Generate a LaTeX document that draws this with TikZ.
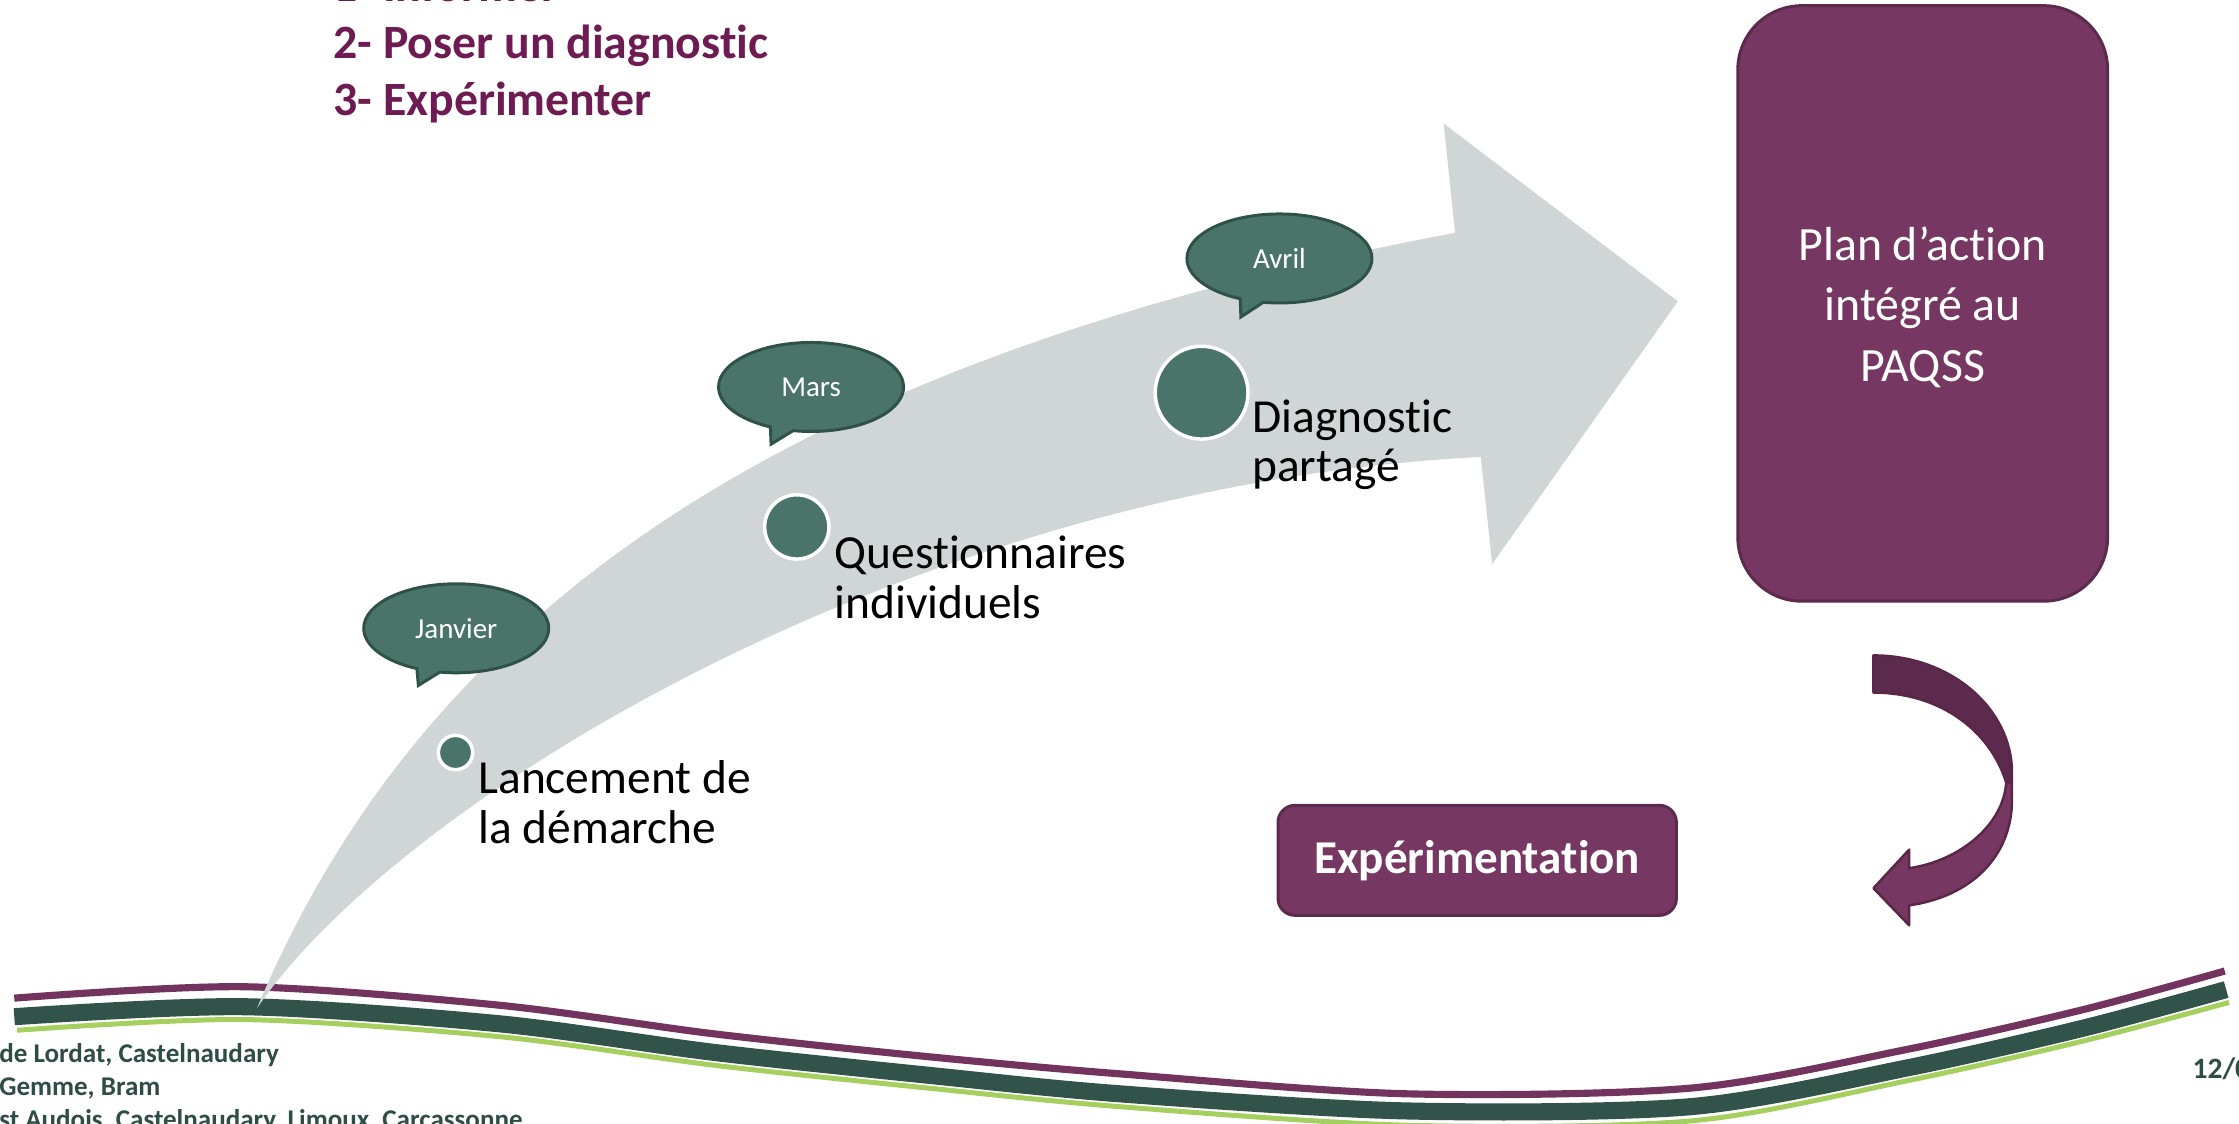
\documentclass[tikz,border=0pt]{standalone}
\usepackage{fontspec}
\setmainfont{Carlito}[Ligatures={NoCommon}]
\usetikzlibrary{shapes.callouts,shapes.geometric}
\definecolor{headpurple}{HTML}{6D1B52}
\definecolor{boxpurple}{HTML}{773763}
\definecolor{boxborder}{HTML}{5B2A4C}
\definecolor{arrowdark}{HTML}{5C2A4D}
\definecolor{arrowline}{HTML}{5A2748}
\definecolor{tealfill}{HTML}{4A7469}
\definecolor{bubbleborder}{HTML}{2F5248}
\definecolor{bandgray}{HTML}{CFD6D5}
\definecolor{footgreen}{HTML}{2E4D45}
\definecolor{stripepurple}{HTML}{72335F}
\definecolor{stripegreen}{HTML}{32534A}
\definecolor{stripelime}{HTML}{A5D05F}
\begin{document}
\begin{tikzpicture}[x=0.14279mm,y=-0.14279mm,
  dot/.style={circle, fill=tealfill, draw=white, line width=0.35mm, inner sep=0},
  lbl/.style={anchor=base west, align=left, inner sep=0, font=\fontsize{13.5}{14.1}\selectfont, text=black},
  bubble/.style={ellipse callout, fill=tealfill, draw=bubbleborder, line width=0.3mm, minimum width=18.5mm, minimum height=8.9mm, inner sep=0, text=white, font=\fontsize{8.25}{10}\selectfont},
  pbox/.style={fill=boxpurple, draw=boxborder, line width=0.3mm, text=white, inner sep=0},
  stripe/.style={line cap=butt}
]
\useasboundingbox (0,0) rectangle (1568,787.1);
\clip (0,0) rectangle (1568,787.1);

% bottom stripes
\draw[stripe, stripepurple, line width=0.714mm] plot[smooth] coordinates {(10,699) (170,691) (350,704) (500,724) (650,740) (784,752) (985,766) (1184,762) (1335,735) (1459,707) (1558,680)};
\draw[stripe, stripegreen, line width=1.71mm] plot[smooth] coordinates {(10,712) (170,705) (350,717) (500,737) (650,753) (784,766) (985,778) (1184,775) (1335,748) (1459,720) (1559,693)};
\draw[stripe, stripelime, line width=0.5mm] plot[smooth] coordinates {(12,721.5) (170,714) (350,726) (500,746) (650,762) (784,775) (985,788) (1184,785) (1335,757) (1459,729) (1561,702)};

% big curved arrow
\fill[bandgray] (180,706) .. controls (300,420) and (560,250) .. (1019,163) -- (1011,86.5) -- (1175,211) -- (1045,395) -- (1037,320) .. controls (640,340) and (280,560) .. (180,706) -- cycle;

% headings (anchor = baseline of last line)
\node[anchor=base west, align=left, inner sep=0, text=headpurple, font=\bfseries\fontsize{13.6}{16.2}\selectfont] (steps) at (233,81) {1- Informer\\2- Poser un diagnostic\\3- Expérimenter};

% milestones
\node[dot, minimum size=3.43mm] (c1) at (319,527) {};
\node[dot, minimum size=6.43mm] (c2) at (558,369) {};
\node[dot, minimum size=9.28mm] (c3) at (841.5,275) {};
\node[lbl] (l1) at (334.5,590.6) {Lancement de\\la démarche};
\node[lbl] (l2) at (584,433) {Questionnaires\\individuels};
\node[lbl] (l3) at (876.5,337.3) {Diagnostic\\partagé};

\node[bubble, callout absolute pointer={(293,480)}] (b1) at (319.5,440) {Janvier};
\node[bubble, callout absolute pointer={(540,311)}] (b2) at (568,271) {Mars};
\node[bubble, callout absolute pointer={(869,222)}] (b3) at (896,181) {Avril};

% boxes
\node[pbox, rounded corners=6.4mm, minimum width=36.98mm, minimum height=59.55mm] (plan) at (1346.5,212.5) {};
\node[anchor=base, align=center, inner sep=0, text=white, font=\fontsize{13.6}{17.2}\selectfont] (plantext) at (1346.5,267) {Plan d’action\\intégré au\\PAQSS};
\node[pbox, rounded corners=1.7mm, minimum width=39.84mm, minimum height=11mm, font=\bfseries\fontsize{13.4}{16}\selectfont] (exp) at (1034.5,602.5) {Expérimentation};

% U-turn arrow
\filldraw[fill=arrowdark, draw=arrowline, line width=0.25mm, line join=round] (1312,459) .. controls (1367,459) and (1409,497) .. (1409,541) -- (1409,548) -- (1405,548) .. controls (1393,510) and (1357,485) .. (1312,485) -- cycle;
\filldraw[fill=boxpurple, draw=arrowline, line width=0.25mm, line join=round] (1405,548) -- (1409,548) -- (1409,560) .. controls (1409,600) and (1380,628) .. (1337,634) -- (1337,648) -- (1312,622) -- (1337,595) -- (1337,608) .. controls (1372,603) and (1403,578) .. (1405,548) -- cycle;

% footer
\node[anchor=base west, align=left, inner sep=0, text=footgreen, font=\bfseries\fontsize{7.7}{9.4}\selectfont] (foot) at (-1,790.6) {de Lordat, Castelnaudary\\Gemme, Bram\\st Audois, Castelnaudary, Limoux, Carcassonne};
\node[anchor=base west, inner sep=0, text=footgreen, font=\bfseries\fontsize{8.4}{10}\selectfont] (date) at (1535,755) {12/0};
\end{tikzpicture}
\end{document}
